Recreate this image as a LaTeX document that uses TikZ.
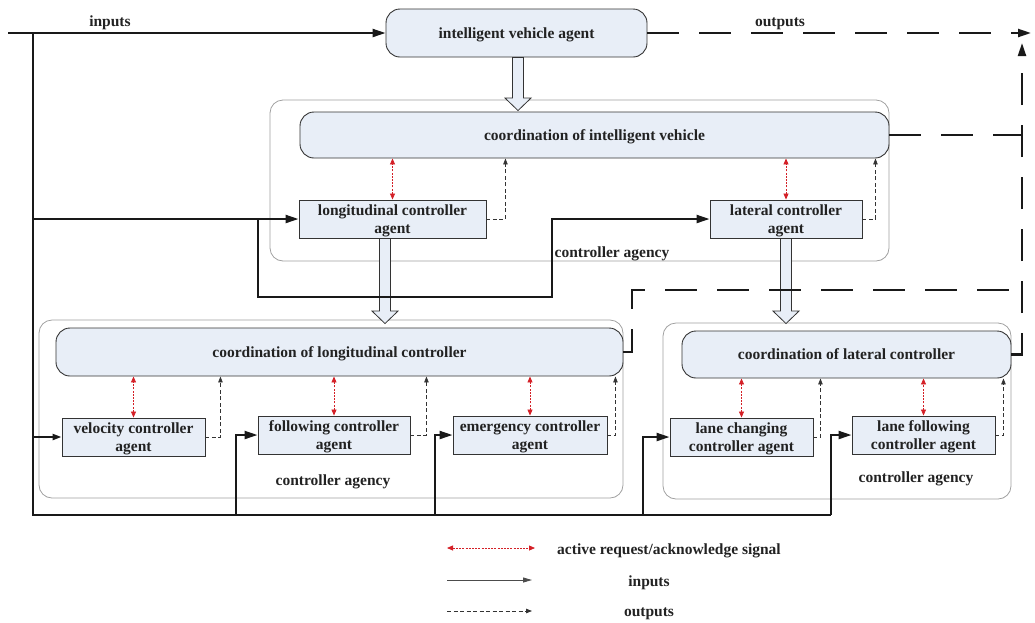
\documentclass[tikz,border=0pt]{standalone}
\usepackage{fontspec}
\setmainfont{Liberation Serif}
\usetikzlibrary{arrows.meta,calc}
\definecolor{boxfill}{HTML}{E8EEF7}
\definecolor{boxline}{HTML}{333333}
\definecolor{agline}{HTML}{A0A0A0}
\definecolor{txt}{HTML}{222222}
\definecolor{reqred}{HTML}{D42027}
\tikzset{
  every node/.style={font=\fontsize{15.5}{18}\selectfont\bfseries, text=txt, inner sep=0pt, text depth=0pt},
  coordbox/.style={draw=boxline, fill=boxfill, line width=0.9pt, rounded corners=14pt},
  agentbox/.style={draw=boxline, fill=boxfill, line width=0.9pt, align=center},
  agency/.style={draw=agline, line width=0.8pt, rounded corners=13pt},
  inp/.style={line width=2.2pt, black!90, -{Triangle[length=13pt,width=8pt]}},
  inpline/.style={line width=2.2pt, black!90},
  smallinp/.style={line width=2.2pt, black!90, -{Triangle[length=9pt,width=6pt]}},
  outp/.style={line width=0.8pt, black!80, dash pattern=on 4pt off 2.5pt, -{Triangle[length=6pt,width=4.5pt]}},
  req/.style={line width=0.8pt, reqred, dash pattern=on 2pt off 1.2pt, {Triangle[length=6pt,width=5pt]}-{Triangle[length=6pt,width=5pt]}},
  bigout/.style={line width=2.2pt, black!90, dash pattern=on 32pt off 20pt},
  bigoutarr/.style={bigout, -{Triangle[length=13pt,width=8pt]}},
  barrow/.style={draw=boxline, fill=boxfill, line width=0.8pt, line join=miter},
  legin/.style={line width=1pt, black!70, -{Triangle[length=9pt,width=5pt]}},
}
\newcommand\blockarr[2]{\draw[barrow] let \p1=(#1), \p2=(#2) in
  (\x1-5.5pt,\y1) -- (\x1-5.5pt,\y2+12.5pt) -- (\x1-13pt,\y2+12.5pt) -- (\x1,\y2)
  -- (\x1+13pt,\y2+12.5pt) -- (\x1+5.5pt,\y2+12.5pt) -- (\x1+5.5pt,\y1) -- cycle;}
\begin{document}
\begin{tikzpicture}[x=1pt,y=-1pt]
\useasboundingbox (0,0) rectangle (1035,622);

% agency boxes
\node[agency, minimum width=619pt, minimum height=161pt] (ag1) at (579.5,180.5) {};
\node[agency, minimum width=584pt, minimum height=178pt] (ag2) at (331,409) {};
\node[agency, minimum width=348pt, minimum height=176pt] (ag3) at (837,411) {};

% main boxes
\node[coordbox, minimum width=261pt, minimum height=48pt] (iva) at (516.5,33) {intelligent vehicle agent};
\node[coordbox, minimum width=589pt, minimum height=46pt] (civ) at (594.5,135) {coordination of intelligent vehicle};
\node[agentbox, minimum width=187pt, minimum height=38pt] (lca) at (392.5,219) {longitudinal controller\\agent};
\node[agentbox, minimum width=152pt, minimum height=38pt] (lat) at (786,219) {lateral controller\\agent};
\node (ag1t) at (612,252) {controller agency};

\node[coordbox, minimum width=567pt, minimum height=48pt] (clc) at (339.5,352) {coordination of longitudinal controller};
\node[agentbox, minimum width=143pt, minimum height=38pt] (vca) at (133.5,437) {velocity controller\\agent};
\node[agentbox, minimum width=152pt, minimum height=38pt] (fca) at (334,435) {following controller\\agent};
\node[agentbox, minimum width=154pt, minimum height=38pt] (eca) at (530,435) {emergency controller\\agent};
\node (ag2t) at (333,480) {controller agency};

\node[coordbox, minimum width=329pt, minimum height=47pt] (cla) at (846.5,354.5) {coordination of lateral controller};
\node[agentbox, minimum width=143pt, minimum height=38pt] (lcca) at (741.5,437) {lane changing\\controller agent};
\node[agentbox, minimum width=143pt, minimum height=38pt] (lfca) at (923.5,435) {lane following\\controller agent};
\node (ag3t) at (916,477) {controller agency};

% block arrows
\blockarr{[xshift=1.5pt]iva.south}{[yshift=1pt]civ.north}
\blockarr{[xshift=-7.5pt]lca.south}{[yshift=4pt]clc.north}
\blockarr{lat.south}{[yshift=7pt]cla.north}

% request/acknowledge
\draw[req] (lca.north) -- (civ.south -| lca.north);
\draw[req] (lat.north) -- (civ.south -| lat.north);
\draw[req] (vca.north) -- (clc.south -| vca.north);
\draw[req] (fca.north) -- (clc.south -| fca.north);
\draw[req] (eca.north) -- (clc.south -| eca.north);
\draw[req] (lcca.north) -- (cla.south -| lcca.north);
\draw[req] (lfca.north) -- (cla.south -| lfca.north);

% small outputs
\coordinate (o1) at ([xshift=19pt]lca.east);
\draw[outp] (lca.east) -- (o1) -- (o1 |- civ.south);
\coordinate (o2) at ([xshift=13pt]lat.east);
\draw[outp] (lat.east) -- (o2) -- (o2 |- civ.south);
\coordinate (o3) at ([xshift=15pt]vca.east);
\draw[outp] (vca.east) -- (o3) -- (o3 |- clc.south);
\coordinate (o4) at ([xshift=16pt]fca.east);
\draw[outp] (fca.east) -- (o4) -- (o4 |- clc.south);
\coordinate (o5) at ([xshift=8pt]eca.east);
\draw[outp] (eca.east) -- (o5) -- (o5 |- clc.south);
\coordinate (o6) at ([xshift=7pt]lcca.east);
\draw[outp] (lcca.east) -- (o6) -- (o6 |- cla.south);
\coordinate (o7) at ([xshift=8pt]lfca.east);
\draw[outp] (lfca.east) -- (o7) -- (o7 |- cla.south);

% inputs
\coordinate (in0) at (8,33);
\coordinate (j0) at (33,33);
\coordinate (jb) at (33,515);
\coordinate (k1) at (258,219);
\coordinate (k2) at (552,297);
\coordinate (b1) at (236,515);
\coordinate (b2) at (435,515);
\coordinate (b3) at (643,515);
\coordinate (b4) at (831,515);
\draw[inp] (in0) -- (iva.west);
\draw[inpline] (j0) -- (jb) -- (b4);
\draw[inp] (j0 |- lca.west) -- (lca.west);
\draw[inp] (k1) |- (k2) -- (k2 |- lat.west) -- (lat.west);
\draw[smallinp] (j0 |- vca.west) -- (vca.west);
\draw[inp] (b1) |- (fca.west);
\draw[inp] (b2) |- (eca.west);
\draw[inp] (b3) |- (lcca.west);
\draw[inp] (b4) |- (lfca.west);

% big outputs
\coordinate (oe) at (1031,33);
\coordinate (ovtop) at (1022,43);
\coordinate (q) at (632,290);
\draw[bigoutarr] (iva.east) -- (oe);
\draw[bigoutarr] (cla.east) -- (ovtop |- cla.east) -- (ovtop);
\draw[bigout] (civ.east) -- (ovtop |- civ.east);
\draw[bigout] (clc.east) -| (q) -- (q -| ovtop);

\node (tin) at (110,21) {inputs};
\node (tout) at (780,22) {outputs};

% legend
\coordinate (l1a) at (447,548); \coordinate (l1b) at (535,548);
\coordinate (l2a) at (447,580); \coordinate (l2b) at (532,580);
\coordinate (l3a) at (447,611); \coordinate (l3b) at (532,611);
\draw[req] (l1a) -- (l1b);
\draw[legin] (l2a) -- (l2b);
\draw[outp] (l3a) -- (l3b);
\node (lt1) at (669,549) {active request/acknowledge signal};
\node (lt2) at (649,581) {inputs};
\node (lt3) at (649,612) {outputs};
\end{tikzpicture}
\end{document}
